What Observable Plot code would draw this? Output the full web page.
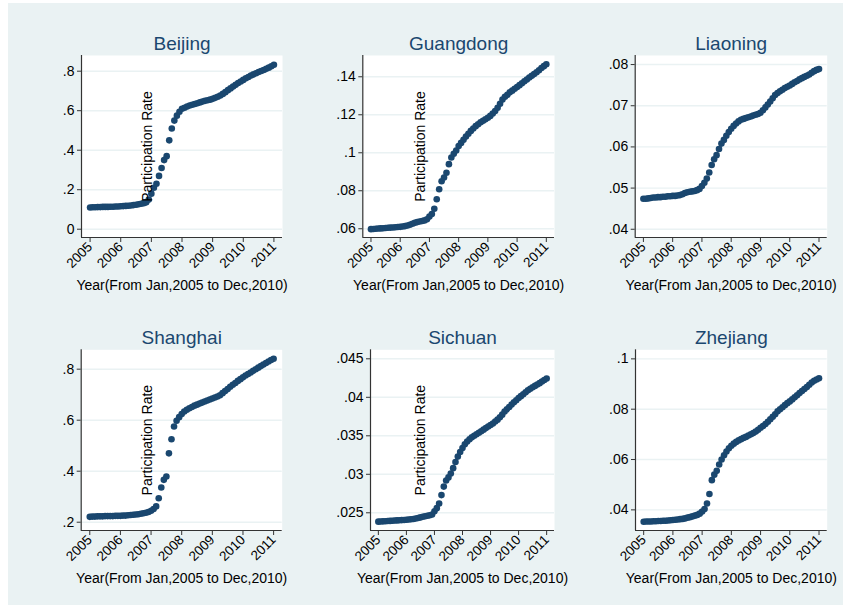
<!DOCTYPE html>
<html><head><meta charset="utf-8">
<script src="https://cdn.jsdelivr.net/npm/d3@7"></script>
<script src="https://cdn.jsdelivr.net/npm/@observablehq/plot@0.6"></script>
<style>
html,body{margin:0;padding:0;background:#fff;}
#chart{position:relative;width:843px;height:615px;overflow:hidden;font-family:"Liberation Sans",Arial,sans-serif;}
#bg{position:absolute;left:8px;top:3px;width:835px;height:602px;background:#EAF2F3;}
.panel{position:absolute;}
</style></head><body>
<div id="chart"><div id="bg"></div></div>
<script>
// Monthly observations, Jan 2005 .. Jan 2011 (73 points each)
const provinces = ["Beijing","Guangdong","Liaoning","Shanghai","Sichuan","Zhejiang"];
const yearTicks = [2005,2006,2007,2008,2009,2010,2011];
const xTitle = "Year(From Jan,2005 to Dec,2010)";
const yTitle = "Participation Rate";

const beijing = [0.110,0.111,0.111,0.112,0.112,0.113,0.113,0.113,0.114,0.114,0.115,0.115,0.116,
 0.117,0.118,0.119,0.120,0.122,0.124,0.126,0.129,0.132,0.136,0.150,
 0.180,0.210,0.230,0.270,0.310,0.350,0.370,0.450,0.510,0.550,0.575,0.595,
 0.610,0.615,0.621,0.626,0.630,0.634,0.638,0.642,0.646,0.650,0.653,0.656,
 0.660,0.665,0.671,0.677,0.685,0.694,0.704,0.713,0.722,0.731,0.740,0.748,
 0.756,0.764,0.771,0.778,0.784,0.790,0.796,0.801,0.806,0.812,0.818,0.825,0.833];
const guangdong = [0.0598,0.0599,0.0600,0.0601,0.0602,0.0603,0.0604,0.0605,0.0606,0.0607,0.0608,0.0609,0.0610,
 0.0612,0.0614,0.0617,0.0621,0.0626,0.0631,0.0635,0.0638,0.0641,0.0644,0.0650,
 0.0664,0.0678,0.0705,0.0755,0.0808,0.0850,0.0870,0.0895,0.0940,0.0975,0.0995,0.1012,
 0.1035,0.1052,0.1068,0.1085,0.1100,0.1115,0.1128,0.1140,0.1150,0.1160,0.1168,0.1176,
 0.1184,0.1194,0.1207,0.1220,0.1237,0.1258,0.1280,0.1295,0.1305,0.1318,0.1327,0.1337,
 0.1346,0.1356,0.1366,0.1376,0.1386,0.1396,0.1405,0.1414,0.1424,0.1434,0.1446,0.1456,0.1466];
const liaoning = [0.0474,0.0474,0.0475,0.0476,0.0477,0.0477,0.0478,0.0478,0.0479,0.0479,0.0480,0.0480,0.0481,
 0.0481,0.0482,0.0483,0.0485,0.0488,0.0490,0.0491,0.0492,0.0493,0.0495,0.0498,
 0.0505,0.0513,0.0523,0.0538,0.0556,0.0570,0.0580,0.0595,0.0608,0.0617,0.0627,0.0636,
 0.0644,0.0651,0.0657,0.0662,0.0666,0.0668,0.0670,0.0672,0.0674,0.0676,0.0678,0.0680,
 0.0683,0.0689,0.0696,0.0703,0.0710,0.0718,0.0726,0.0731,0.0735,0.0739,0.0743,0.0746,
 0.0749,0.0753,0.0757,0.0760,0.0764,0.0767,0.0770,0.0773,0.0776,0.0780,0.0784,0.0787,0.0789];
const shanghai = [0.221,0.222,0.222,0.223,0.223,0.223,0.224,0.224,0.224,0.224,0.225,0.225,0.225,
 0.226,0.226,0.227,0.228,0.229,0.230,0.231,0.233,0.235,0.237,0.240,
 0.245,0.252,0.262,0.294,0.336,0.366,0.379,0.470,0.525,0.575,0.598,0.612,
 0.624,0.634,0.641,0.647,0.652,0.657,0.661,0.665,0.669,0.673,0.677,0.681,
 0.685,0.689,0.693,0.698,0.706,0.714,0.722,0.731,0.739,0.746,0.754,0.761,
 0.768,0.775,0.781,0.787,0.794,0.800,0.806,0.812,0.818,0.824,0.830,0.836,0.841];
const sichuan = [0.02385,0.02387,0.02389,0.02391,0.02393,0.02395,0.02397,0.02399,0.02401,0.02403,0.02405,0.02407,0.02410,
 0.02413,0.02416,0.02420,0.02425,0.02432,0.02440,0.02448,0.02455,0.02462,0.02468,0.02478,
 0.02520,0.02560,0.02620,0.02730,0.02840,0.02920,0.02960,0.03010,0.03080,0.03160,0.03230,0.03290,
 0.03340,0.03390,0.03425,0.03455,0.03480,0.03500,0.03520,0.03540,0.03560,0.03580,0.03600,0.03620,
 0.03640,0.03660,0.03685,0.03710,0.03740,0.03775,0.03815,0.03845,0.03875,0.03905,0.03935,0.03962,
 0.03990,0.04015,0.04040,0.04065,0.04090,0.04110,0.04130,0.04148,0.04166,0.04184,0.04205,0.04225,0.04245];
const zhejiang = [0.0353,0.0354,0.0354,0.0354,0.0355,0.0355,0.0356,0.0356,0.0357,0.0357,0.0358,0.0359,0.0360,
 0.0361,0.0362,0.0363,0.0364,0.0366,0.0369,0.0371,0.0374,0.0377,0.0380,0.0385,
 0.0393,0.0403,0.0425,0.0463,0.0518,0.0540,0.0555,0.0580,0.0600,0.0617,0.0632,0.0645,
 0.0655,0.0663,0.0670,0.0676,0.0681,0.0686,0.0690,0.0695,0.0700,0.0705,0.0711,0.0718,
 0.0726,0.0733,0.0741,0.0750,0.0760,0.0770,0.0780,0.0792,0.0800,0.0808,0.0816,0.0824,
 0.0831,0.0839,0.0847,0.0855,0.0864,0.0872,0.0880,0.0888,0.0897,0.0906,0.0913,0.0918,0.0923];

const beijingTicks = [0,0.2,0.4,0.6,0.8];
const guangdongTicks = [0.06,0.08,0.1,0.12,0.14];
const liaoningTicks = [0.04,0.05,0.06,0.07,0.08];
const shanghaiTicks = [0.2,0.4,0.6,0.8];
const sichuanTicks = [0.025,0.03,0.035,0.04,0.045];
const zhejiangTicks = [0.04,0.06,0.08,0.1];

const values = [beijing,guangdong,liaoning,shanghai,sichuan,zhejiang];
const ticks = [beijingTicks,guangdongTicks,liaoningTicks,shanghaiTicks,sichuanTicks,zhejiangTicks];

// layout (pixels) and scale extents
const layout = [
  {left:0,   top:0,   w:285, h:300, ml:81,   mr:3,    mt:55, mb:63, yd:[-0.042,0.8795],  pr:65.7},
  {left:285, top:0,   w:275, h:300, ml:77.3, mr:6,    mt:55, mb:63, yd:[0.0554,0.1512],  pr:57.7},
  {left:560, top:0,   w:283, h:300, ml:74.7, mr:16.3, mt:55, mb:63, yd:[0.038,0.0822],   pr:null},
  {left:0,   top:300, w:285, h:310, ml:80.7, mr:3.3,  mt:49.3, mb:80, yd:[0.1675,0.876], pr:66},
  {left:285, top:300, w:275, h:310, ml:85,   mr:6,    mt:49.3, mb:80, yd:[0.0227,0.04617], pr:50},
  {left:560, top:300, w:283, h:310, ml:75,   mr:16.3, mt:49.3, mb:80, yd:[0.0318,0.1036], pr:null}
];
const xDomain = [2004.72, 2011.28];
const navy = "#1A476F";
const fmt = d => d === 0 ? "0" : String(+d.toFixed(4)).replace(/^0\./, ".");

const chart = document.getElementById("chart");
provinces.forEach((name, k) => {
  const L = layout[k];
  const data = values[k].map((v, i) => ({x: 2005 + i / 12, y: v}));
  const marks = [
    Plot.frame({fill: "white", stroke: "none"}),
    Plot.gridY(ticks[k], {stroke: "#EAF2F3", strokeOpacity: 1, strokeWidth: 1.4}),
    Plot.ruleX([xDomain[0]], {stroke: "#333", strokeWidth: 1.2}),
    Plot.ruleY([L.yd[0]], {stroke: "#333", strokeWidth: 1.2}),
    Plot.axisY(ticks[k], {tickSize: 4, tickPadding: 3, tickFormat: fmt, fontSize: 14, label: null, stroke: "#333", fill: "black"}),
    Plot.axisX(yearTicks, {tickSize: 5, tickPadding: 2, tickRotate: -45, tickFormat: d => String(d), fontSize: 13.5, label: null, stroke: "#333", fill: "black"}),
    Plot.dot(data, {x: "x", y: "y", r: 3.3, fill: navy, stroke: "none"}),
    Plot.text([name], {text: d => d, frameAnchor: "top", dy: -12, lineAnchor: "middle", fontSize: 19, fontWeight: "normal", fill: navy}),
    Plot.text([xTitle], {text: d => d, frameAnchor: "bottom", dy: 48, lineAnchor: "middle", fontSize: 14, fill: "black"})
  ];
  if (L.pr != null) {
    marks.push(Plot.text([yTitle], {text: d => d, frameAnchor: "left", dx: L.pr, rotate: -90, textAnchor: "middle", lineAnchor: "middle", fontSize: 14, fill: "black"}));
  }
  const svg = Plot.plot({
    width: L.w, height: L.h,
    marginLeft: L.ml, marginRight: L.mr, marginTop: L.mt, marginBottom: L.mb,
    x: {domain: xDomain},
    y: {domain: L.yd},
    style: {background: "transparent", overflow: "visible", fontFamily: "'Liberation Sans', Arial, sans-serif", fontSize: "13.5px", maxWidth: "none"},
    marks
  });
  const div = document.createElement("div");
  div.className = "panel";
  div.style.left = L.left + "px";
  div.style.top = L.top + "px";
  div.style.width = L.w + "px";
  div.style.height = L.h + "px";
  div.appendChild(svg);
  chart.appendChild(div);
});
</script>
</body></html>
